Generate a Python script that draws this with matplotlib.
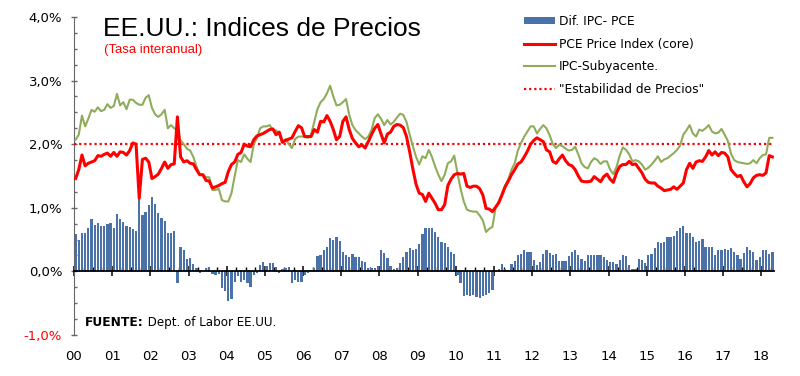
import numpy as np
import matplotlib.pyplot as plt
from matplotlib.ticker import MultipleLocator

plt.rcParams['font.family'] = 'DejaVu Sans'

# monthly data, Jan 2000 - Apr 2018 (tasa interanual, %)
ipc_sub = [
    2.07, 2.15, 2.45, 2.28, 2.40, 2.54, 2.51, 2.58, 2.52, 2.54, 2.63, 2.57,  # 2000
    2.60, 2.79, 2.61, 2.66, 2.55, 2.70, 2.70, 2.65, 2.62, 2.62, 2.73, 2.77,  # 2001
    2.57, 2.47, 2.43, 2.47, 2.54, 2.25, 2.30, 2.25, 2.22, 2.06, 2.00, 1.93,  # 2002
    1.90, 1.80, 1.65, 1.52, 1.52, 1.48, 1.48, 1.28, 1.28, 1.30, 1.12, 1.10,  # 2003
    1.10, 1.23, 1.50, 1.75, 1.72, 1.84, 1.77, 1.72, 2.00, 2.10, 2.25, 2.28,  # 2004
    2.28, 2.30, 2.22, 2.22, 2.15, 2.03, 2.08, 2.00, 1.94, 2.08, 2.12, 2.12,  # 2005
    2.12, 2.10, 2.15, 2.35, 2.55, 2.66, 2.71, 2.80, 2.92, 2.75, 2.61, 2.62,  # 2006
    2.66, 2.71, 2.46, 2.30, 2.22, 2.17, 2.12, 2.08, 2.12, 2.22, 2.41, 2.47,  # 2007
    2.40, 2.30, 2.38, 2.31, 2.35, 2.42, 2.48, 2.46, 2.35, 2.15, 1.97, 1.80,  # 2008
    1.68, 1.81, 1.78, 1.91, 1.80, 1.65, 1.52, 1.42, 1.52, 1.70, 1.73, 1.82,  # 2009
    1.55, 1.30, 1.10, 0.97, 0.95, 0.94, 0.94, 0.88, 0.80, 0.62, 0.67, 0.70,  # 2010
    1.00, 1.10, 1.22, 1.35, 1.45, 1.60, 1.70, 1.90, 2.02, 2.12, 2.20, 2.28,  # 2011
    2.28, 2.17, 2.24, 2.30, 2.25, 2.14, 2.00, 1.94, 1.99, 1.97, 1.93, 1.90,  # 2012
    1.91, 1.96, 1.84, 1.70, 1.64, 1.62, 1.72, 1.78, 1.75, 1.69, 1.73, 1.73,  # 2013
    1.60, 1.53, 1.64, 1.82, 1.95, 1.91, 1.84, 1.73, 1.75, 1.73, 1.68, 1.60,  # 2014
    1.63, 1.68, 1.74, 1.81, 1.72, 1.76, 1.78, 1.82, 1.86, 1.91, 1.98, 2.15,  # 2015
    2.22, 2.30, 2.17, 2.12, 2.23, 2.21, 2.25, 2.30, 2.20, 2.17, 2.18, 2.24,  # 2016
    2.15, 2.05, 1.85, 1.75, 1.72, 1.71, 1.70, 1.69, 1.70, 1.75, 1.70, 1.78,  # 2017
    1.83, 1.84, 2.10, 2.10,                                                  # 2018
]

pce_core = [
    1.46, 1.60, 1.83, 1.66, 1.70, 1.72, 1.74, 1.82, 1.81, 1.84, 1.86, 1.81,
    1.87, 1.81, 1.88, 1.87, 1.83, 1.90, 2.02, 2.00, 1.15, 1.76, 1.78, 1.72,
    1.46, 1.49, 1.53, 1.62, 1.72, 1.62, 1.68, 1.69, 2.43, 1.80, 1.72, 1.74,
    1.70, 1.69, 1.60, 1.52, 1.52, 1.43, 1.42, 1.31, 1.33, 1.35, 1.38, 1.40,
    1.57, 1.68, 1.72, 1.84, 1.87, 2.00, 1.97, 1.96, 2.07, 2.13, 2.15, 2.17,
    2.20, 2.23, 2.24, 2.15, 2.19, 2.03, 2.06, 2.08, 2.10, 2.20, 2.29, 2.26,
    2.12, 2.12, 2.12, 2.23, 2.19, 2.36, 2.35, 2.45, 2.36, 2.23, 2.07, 2.12,
    2.36, 2.43, 2.23, 2.09, 2.02, 1.96, 1.99, 1.94, 2.04, 2.15, 2.25, 2.31,
    2.16, 2.02, 2.16, 2.19, 2.28, 2.31, 2.30, 2.26, 2.12, 1.88, 1.61, 1.37,
    1.23, 1.21, 1.10, 1.23, 1.15, 1.07, 0.97, 0.97, 1.05, 1.35, 1.45, 1.52,
    1.54, 1.53, 1.54, 1.34, 1.32, 1.34, 1.34, 1.30, 1.20, 0.99, 0.98, 0.94,
    1.01, 1.08, 1.20, 1.33, 1.42, 1.52, 1.60, 1.69, 1.72, 1.80, 1.89, 2.00,
    2.06, 2.10, 2.07, 2.04, 1.91, 1.88, 1.73, 1.70, 1.77, 1.83, 1.74, 1.68,
    1.66, 1.60, 1.50, 1.42, 1.41, 1.41, 1.42, 1.49, 1.45, 1.41, 1.49, 1.53,
    1.45, 1.40, 1.55, 1.65, 1.68, 1.68, 1.73, 1.68, 1.69, 1.62, 1.55, 1.45,
    1.40, 1.39, 1.39, 1.34, 1.31, 1.27, 1.28, 1.29, 1.33, 1.29, 1.34, 1.39,
    1.60, 1.70, 1.62, 1.72, 1.74, 1.73, 1.80, 1.90, 1.83, 1.88, 1.82, 1.87,
    1.86, 1.80, 1.60, 1.54, 1.49, 1.51, 1.41, 1.33, 1.38, 1.47, 1.51, 1.52,
    1.51, 1.55, 1.82, 1.80,
]

dif_ipc_pce = [
    0.59, 0.50, 0.60, 0.61, 0.68, 0.83, 0.73, 0.76, 0.71, 0.72, 0.75, 0.76,
    0.68, 0.90, 0.83, 0.77, 0.72, 0.70, 0.66, 0.64, 1.15, 0.88, 0.94, 1.05,
    1.17, 1.06, 0.92, 0.84, 0.80, 0.60, 0.60, 0.63, -0.19, 0.38, 0.33, 0.19,
    0.21, 0.12, 0.05, -0.03, 0.01, 0.05, 0.07, -0.04, -0.05, -0.04, -0.26, -0.31,
    -0.47, -0.43, -0.16, -0.08, -0.16, -0.14, -0.19, -0.24, -0.05, -0.03, 0.10, 0.14,
    0.08, 0.13, 0.13, 0.07, -0.02, 0.04, 0.05, 0.07, -0.18, -0.14, -0.17, -0.16,
    -0.05, -0.02, 0.02, 0.06, 0.24, 0.26, 0.34, 0.38, 0.52, 0.50, 0.54, 0.48,
    0.30, 0.26, 0.22, 0.28, 0.22, 0.22, 0.16, 0.15, 0.05, 0.05, 0.06, 0.09,
    0.34, 0.29, 0.21, 0.08, 0.04, 0.06, 0.13, 0.22, 0.31, 0.37, 0.34, 0.36,
    0.43, 0.59, 0.68, 0.68, 0.68, 0.62, 0.54, 0.47, 0.45, 0.38, 0.31, 0.28,
    -0.05, -0.19, -0.39, -0.37, -0.39, -0.37, -0.41, -0.42, -0.38, -0.37, -0.34, -0.29,
    0.01, 0.04, 0.12, 0.03, 0.02, 0.12, 0.17, 0.26, 0.28, 0.33, 0.30, 0.31,
    0.18, 0.10, 0.14, 0.28, 0.34, 0.29, 0.26, 0.28, 0.16, 0.17, 0.17, 0.24,
    0.31, 0.33, 0.26, 0.19, 0.16, 0.25, 0.26, 0.25, 0.25, 0.25, 0.23, 0.18,
    0.14, 0.14, 0.12, 0.18, 0.25, 0.24, 0.10, 0.04, 0.03, 0.19, 0.18, 0.13,
    0.26, 0.28, 0.37, 0.47, 0.45, 0.46, 0.54, 0.54, 0.55, 0.63, 0.68, 0.71,
    0.60, 0.60, 0.54, 0.47, 0.48, 0.51, 0.39, 0.38, 0.38, 0.25, 0.33, 0.34,
    0.35, 0.33, 0.37, 0.30, 0.26, 0.19, 0.29, 0.39, 0.34, 0.30, 0.18, 0.23,
    0.33, 0.33, 0.28, 0.31,
]

objetivo = 2.0
years = ['00', '01', '02', '03', '04', '05', '06', '07', '08', '09',
         '10', '11', '12', '13', '14', '15', '16', '17', '18']
y_ticks = [-1, 0, 1, 2, 3, 4]
y_labels = ['-1,0%', '0,0%', '1,0%', '2,0%', '3,0%', '4,0%']

n = len(pce_core)
x = np.arange(n) + 0.5

fig = plt.figure(figsize=(8, 3.76), dpi=100)
ax = fig.add_axes([74/800, 1 - 335/376, 700/800, 318/376])

bars = ax.bar(x, dif_ipc_pce, width=0.74, color='#4a71a8', zorder=2)
l_obj = ax.axhline(objetivo, color='red', lw=1.6, ls=(0, (1, 1.3)), zorder=3)
l_ipc, = ax.plot(x, ipc_sub, color='#8fac5c', lw=1.5, zorder=4)
l_pce, = ax.plot(x, pce_core, color='#ff0000', lw=2.2, zorder=5)

ax.set_xlim(0, n)
ax.set_ylim(-1, 4)

for s in ['top', 'right']:
    ax.spines[s].set_visible(False)
ax.spines['left'].set_color('#666666')
ax.spines['bottom'].set_position(('data', 0))
ax.spines['bottom'].set_color('black')
ax.spines['bottom'].set_linewidth(1.3)

ax.set_xticks(np.arange(0, n, 12))
ax.set_xticks(np.arange(0, n + 1, 3), minor=True)
ax.tick_params(axis='x', which='major', direction='inout', length=6.5, width=1.1,
               labelbottom=False)
ax.tick_params(axis='x', which='minor', direction='in', length=3, width=1)

ax.set_yticks(y_ticks, labels=y_labels)
ax.yaxis.set_minor_locator(MultipleLocator(0.25))
ax.tick_params(axis='y', which='major', direction='inout', length=5, width=1,
               color='#666666', labelsize=9.5, pad=6)
ax.tick_params(axis='y', which='minor', direction='in', length=2.2, width=1,
               color='#666666')
ax.get_yticklabels()[0].set_color('red')

sec = ax.secondary_xaxis(0)
sec.set_xticks(np.arange(0, n, 12), labels=years)
sec.tick_params(length=0, pad=11, labelsize=9.5)
sec.spines['bottom'].set_visible(False)

ax.legend([bars, l_pce, l_ipc, l_obj],
          ['Dif. IPC- PCE', 'PCE Price Index (core)', 'IPC-Subyacente.',
           '"Estabilidad de Precios"'],
          loc='upper left', bbox_to_anchor=(524/800, 1 - 15/376),
          bbox_transform=fig.transFigure, frameon=False, fontsize=8.8,
          handlelength=2.55, handleheight=0.45, handletextpad=0.3,
          labelspacing=0.78, borderpad=0, borderaxespad=0)

fig.text(103/800, 1 - 36/376, 'EE.UU.: Indices de Precios', fontsize=19,
         family='Liberation Sans', va='baseline')
fig.text(104/800, 1 - 53/376, '(Tasa interanual)', fontsize=9.5,
         family='Liberation Sans', color='red', va='baseline')

t1 = fig.text(85/800, 1 - 329/376, 'FUENTE:', fontsize=8.8, fontweight='bold',
              va='bottom')
ax.annotate(' Dept. of Labor EE.UU.', xy=(1, 0), xycoords=t1, va='bottom',
            ha='left', fontsize=8.6)

fig.savefig('out.png', dpi=100)
